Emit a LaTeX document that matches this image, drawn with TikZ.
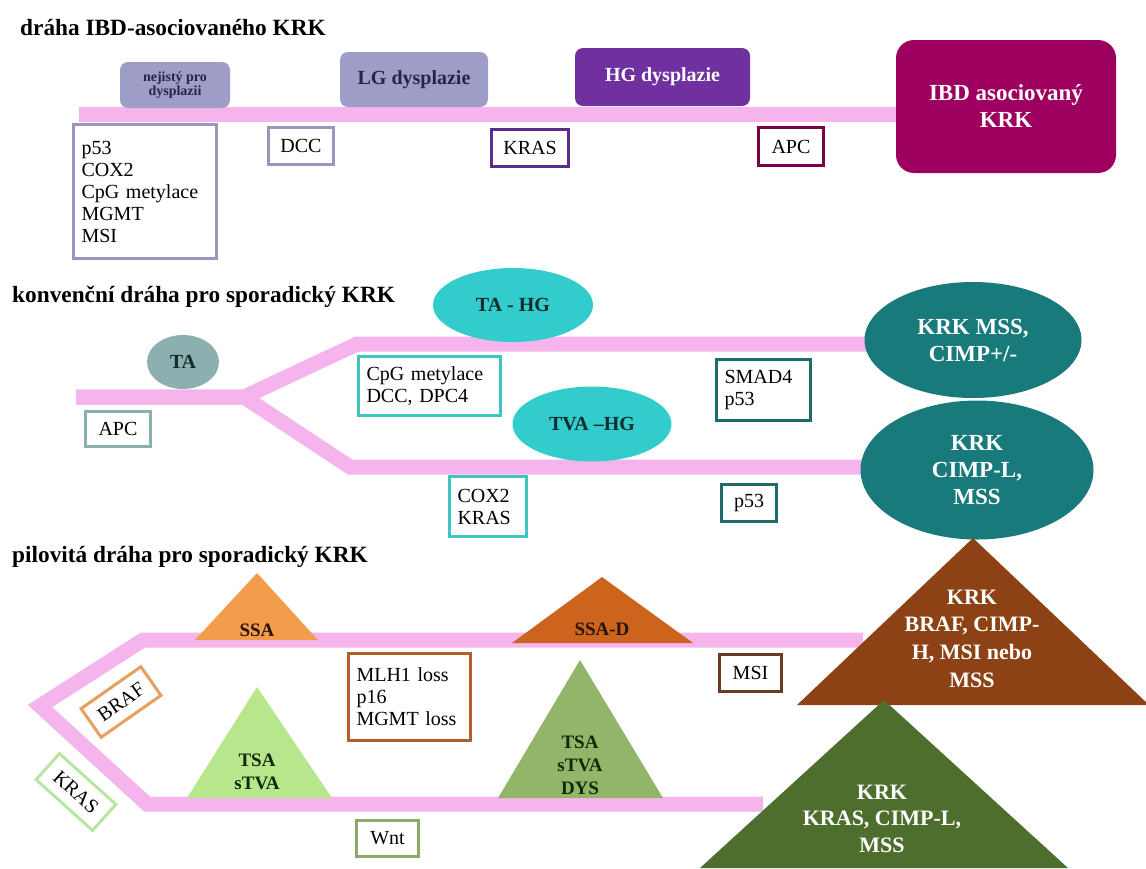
\documentclass[tikz,border=0pt]{standalone}
\usepackage{fontspec}
\setmainfont{Liberation Serif}
\usetikzlibrary{shapes,backgrounds,positioning}
\usepackage{xcolor}

\definecolor{barpink}{RGB}{246,180,236}
\definecolor{lavend}{RGB}{157,157,199}
\definecolor{lavline}{RGB}{155,150,192}
\definecolor{hgpurple}{RGB}{112,48,160}
\definecolor{krasline}{RGB}{92,45,140}
\definecolor{ibdmag}{RGB}{158,0,96}
\definecolor{apcline}{RGB}{122,0,72}
\definecolor{tagray}{RGB}{140,176,176}
\definecolor{turq}{RGB}{50,204,204}
\definecolor{turqline}{RGB}{64,196,196}
\definecolor{tealdark}{RGB}{24,122,122}
\definecolor{tealline}{RGB}{30,107,107}
\definecolor{ssaorange}{RGB}{242,156,76}
\definecolor{ssadorange}{RGB}{205,100,30}
\definecolor{brafbrown}{RGB}{140,66,20}
\definecolor{mlhline}{RGB}{176,96,42}
\definecolor{msiline}{RGB}{107,58,31}
\definecolor{brafline}{RGB}{232,160,96}
\definecolor{tsagreen}{RGB}{184,230,140}
\definecolor{krasgreen}{RGB}{184,230,160}
\definecolor{dysgreen}{RGB}{146,181,106}
\definecolor{wntline}{RGB}{143,168,106}
\definecolor{olivegreen}{RGB}{78,110,45}
\definecolor{navytxt}{RGB}{36,36,80}
\definecolor{darktxt}{RGB}{18,44,44}
\definecolor{greentxt}{RGB}{16,42,8}
\definecolor{browntxt}{RGB}{40,20,10}

\begin{document}
\begin{tikzpicture}[x=1pt,y=-1pt,
  bar/.style={barpink, line width=15pt},
  ttl/.style={anchor=base west, inner sep=0pt, font=\bfseries\fontsize{23.3}{25}\selectfont},
  lbl/.style={rounded corners=8pt, inner sep=0pt, align=center, font=\bfseries\fontsize{20}{22}\selectfont},
  gene/.style={draw, line width=3pt, fill=white, inner xsep=8pt, inner ysep=0pt, align=left, font=\fontsize{20}{22}\selectfont},
  oval/.style={ellipse, inner sep=0pt, align=center, text=darktxt, font=\bfseries\fontsize{20}{22}\selectfont},
  big/.style={text=white, align=center, font=\bfseries\fontsize{23}{27}\selectfont},
  tri/.style={inner sep=0pt, align=center, font=\bfseries\fontsize{19}{23}\selectfont}]
\useasboundingbox (0,0) rectangle (1146,868);

% IBD
\node[ttl] (t1) at (20,35) {dráha IBD-asociovaného KRK};
\node[lbl, fill=lavend, text=navytxt, minimum width=110, minimum height=46, font=\bfseries\fontsize{14}{14.5}\selectfont] (unc) at (175,85) {nejistý pro\\dysplazii};
\node[lbl, fill=lavend, text=navytxt, minimum width=148, minimum height=55] (lg) at (414,79.5) {LG dysplazie};
\node[lbl, fill=hgpurple, text=white, minimum width=175, minimum height=58] (hg) at (662.5,77) {HG dysplazie};
\node[lbl, big, fill=ibdmag, rounded corners=18pt, minimum width=220, minimum height=133] (ibd) at (1006,106.5) {IBD asociovaný\\KRK};
\node[gene, draw=lavline, text width=127, minimum height=134] (g1) at (145,191.5) {p53\\COX2\\CpG metylace\\MGMT\\MSI};
\node[gene, draw=lavline, minimum width=65, minimum height=37] (g2) at (301,146) {DCC};
\node[gene, draw=krasline, minimum width=77, minimum height=37] (g3) at (530,148) {KRAS};
\node[gene, draw=apcline, minimum width=65, minimum height=38] (g4) at (791,146.5) {APC};

% konvencni
\node[ttl] (t2) at (12,302) {konvenční dráha pro sporadický KRK};
\node[oval, fill=tagray, minimum width=72, minimum height=54] (ta) at (183,362) {TA};
\node[oval, fill=turq, minimum width=160, minimum height=74] (tahg) at (513,305) {TA - HG};
\node[oval, fill=turq, minimum width=159, minimum height=75] (tvahg) at (592,424) {TVA –HG};
\node[oval, big, fill=tealdark, minimum width=217, minimum height=116] (krk1) at (973,340) {KRK MSS,\\CIMP+/-};
\node[oval, big, fill=tealdark, minimum width=233, minimum height=139] (krk2) at (977,470) {KRK\\CIMP-L,\\MSS};
\node[gene, draw=tagray, minimum width=65, minimum height=35] (g5) at (118,429) {APC};
\node[gene, draw=turqline, text width=126, minimum height=59] (g6) at (429.5,386) {CpG metylace\\DCC, DPC4};
\node[gene, draw=turqline, text width=61, minimum height=60] (g7) at (488,506.5) {COX2\\KRAS};
\node[gene, draw=tealline, text width=78, minimum height=61] (g8) at (763.5,390) {SMAD4\\p53};
\node[gene, draw=tealline, minimum width=55, minimum height=37] (g9) at (749,503) {p53};

% pilovita
\node[ttl] (t3) at (12,562) {pilovitá dráha pro sporadický KRK};
\fill[ssaorange] (195,640) -- (257,573) -- (318,640) -- cycle;
\fill[ssadorange] (512,643) -- (602,577) -- (693,643) -- cycle;
\fill[tsagreen] (187,798) -- (257,687) -- (332,798) -- cycle;
\fill[dysgreen] (498,798) -- (580,660) -- (663,798) -- cycle;
\fill[brafbrown] (797,705) -- (973,538) -- (1149,705) -- cycle;
\fill[olivegreen] (700,868) -- (884,700) -- (1068,868) -- cycle;
\node[tri, text=browntxt] (ssa) at (257,630) {SSA};
\node[tri, text=browntxt] (ssad) at (602,629) {SSA-D};
\node[tri, text=greentxt] (tsa1) at (257,771.5) {TSA\\sTVA};
\node[tri, text=greentxt] (tsa2) at (580,765) {TSA\\sTVA\\DYS};
\node[big, inner sep=0pt, font=\bfseries\fontsize{22}{27.7}\selectfont] (krk3) at (972,638.5) {KRK\\BRAF, CIMP-\\H, MSI nebo\\MSS};
\node[big, inner sep=0pt, font=\bfseries\fontsize{22}{26.5}\selectfont] (krk4) at (882,818.5) {KRK\\KRAS, CIMP-L,\\MSS};
\node[gene, draw=mlhline, text width=106, minimum height=87] (g10) at (409.5,697) {MLH1 loss\\p16\\MGMT loss};
\node[gene, draw=msiline, minimum width=62, minimum height=37] (g11) at (750.5,673) {MSI};
\node[gene, draw=wntline, minimum width=62, minimum height=36] (g12) at (387.5,838.5) {Wnt};
\node[gene, draw=brafline, minimum width=73, minimum height=35, rotate=35] (g13) at (121,702) {BRAF};
\node[gene, draw=krasgreen, minimum width=76, minimum height=35, rotate=-42] (g14) at (76,792) {KRAS};

\coordinate (a0) at (79,114);
\coordinate (b0) at (76,397);
\coordinate (fork) at (244,397);
\coordinate (up) at (357,344);
\coordinate (dn) at (350,467);
\coordinate (c1) at (863,640);
\coordinate (c2) at (143,640);
\coordinate (c3) at (40,706);
\coordinate (c4) at (147,804);
\coordinate (c5) at (763,804);
\begin{scope}[on background layer]
\draw[bar] (a0) -- (ibd.west |- a0);
\draw[bar, shorten >=-6pt] (b0) -- (fork) -- (up) -- (up -| krk1.west);
\draw[bar, shorten >=-6pt] (b0) -- (fork) -- (dn) -- (dn -| krk2.west);
\draw[bar] (c1) -- (c2) -- (c3) -- (c4) -- (c5);
\end{scope}
\end{tikzpicture}
\end{document}
